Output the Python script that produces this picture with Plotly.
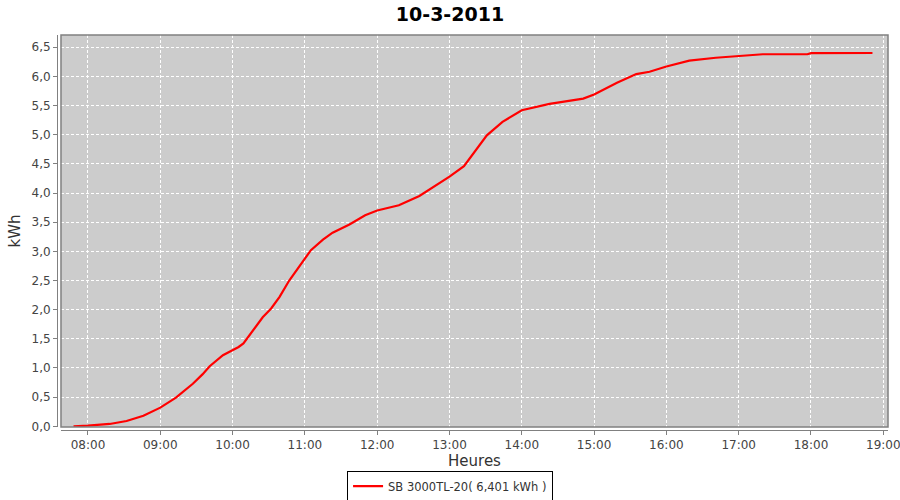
import plotly.graph_objects as go

DAY = "2011-03-10"
times = ["07:48", "08:00", "08:18", "08:32", "08:46", "09:00", "09:13", "09:27", "09:35", "09:41",
         "09:52", "10:00", "10:05", "10:09", "10:16", "10:25", "10:32", "10:39", "10:47", "10:55",
         "11:00", "11:05", "11:15", "11:23", "11:37", "11:50", "12:00", "12:18", "12:35", "12:46",
         "13:00", "13:12", "13:21", "13:31", "13:44", "14:00", "14:23", "14:51", "15:00", "15:19",
         "15:35", "15:46", "16:00", "16:19", "16:41", "17:00", "17:20", "17:57", "18:00", "18:51"]
kwh = [0.00, 0.01, 0.04, 0.09, 0.18, 0.32, 0.49, 0.73, 0.89, 1.03,
       1.22, 1.31, 1.36, 1.42, 1.62, 1.87, 2.02, 2.22, 2.50, 2.73,
       2.88, 3.02, 3.20, 3.32, 3.46, 3.62, 3.70, 3.79, 3.95, 4.09,
       4.28, 4.46, 4.71, 4.99, 5.22, 5.42, 5.53, 5.62, 5.69, 5.89,
       6.04, 6.08, 6.17, 6.27, 6.32, 6.35, 6.38, 6.38, 6.40, 6.401]
series_name = "SB 3000TL-20( 6,401 kWh )"
title = "10-3-2011"

x = [f"{DAY} {t}" for t in times]

fig = go.Figure()
fig.add_trace(go.Scatter(x=x, y=kwh, mode="lines", name=series_name,
                         line=dict(color="#FF0000", width=2.2)))

axis_font = dict(family="DejaVu Sans", size=12, color="#444444")
fig.update_layout(
    width=900, height=500,
    paper_bgcolor="white", plot_bgcolor="#CCCCCC",
    margin=dict(l=57, r=12, t=35, b=70, autoexpand=False),
    separators=",.",
    title=dict(text=f"<b>{title}</b>", x=0.5, xanchor="center", y=0.972, yanchor="middle",
               font=dict(family="DejaVu Sans", size=19, color="black")),
    xaxis=dict(
        type="date", domain=[0.0048, 1], anchor="free", position=0,
        range=[f"{DAY} 07:37:36", f"{DAY} 19:03:54"],
        tickformat="%H:%M", dtick=3600000, tick0=f"{DAY} 08:00",
        showgrid=True, gridcolor="white", griddash="3px,2px", gridwidth=1,
        showline=True, linecolor="#808080", linewidth=1,
        ticks="outside", ticklen=4, tickcolor="#808080",
        tickfont=axis_font, zeroline=False, ticklabeloverflow="allow",
        title=dict(text="Heures", font=dict(family="DejaVu Sans", size=15, color="#333333"), standoff=4),
        automargin=False,
    ),
    yaxis=dict(
        domain=[0.0076, 1], anchor="free", position=0,
        range=[-0.012, 6.71], dtick=0.5, tick0=0, tickformat=".1f",
        showgrid=True, gridcolor="white", griddash="3px,2px", gridwidth=1,
        showline=True, linecolor="#808080", linewidth=1,
        ticks="outside", ticklen=4, tickcolor="#808080",
        tickfont=axis_font, zeroline=False, ticklabeloverflow="allow",
        title=dict(text="kWh", font=dict(family="DejaVu Sans", size=15, color="#333333"), standoff=6),
        automargin=False,
    ),
    showlegend=True,
    legend=dict(orientation="h", x=0.473, xanchor="center", y=-0.142, yanchor="middle",
                bordercolor="black", borderwidth=1, bgcolor="white",
                font=dict(family="DejaVu Sans", size=11.5, color="#333333"),
                itemwidth=30),
)
fig.add_shape(type="rect", xref="x domain", yref="y domain", x0=0, x1=1, y0=0, y1=1,
              line=dict(color="#808080", width=1.5), fillcolor="rgba(0,0,0,0)", layer="above")

fig.write_html("out.html", config={"displayModeBar": False},
               post_script="document.body.style.margin='0';document.body.style.overflow='hidden';")
